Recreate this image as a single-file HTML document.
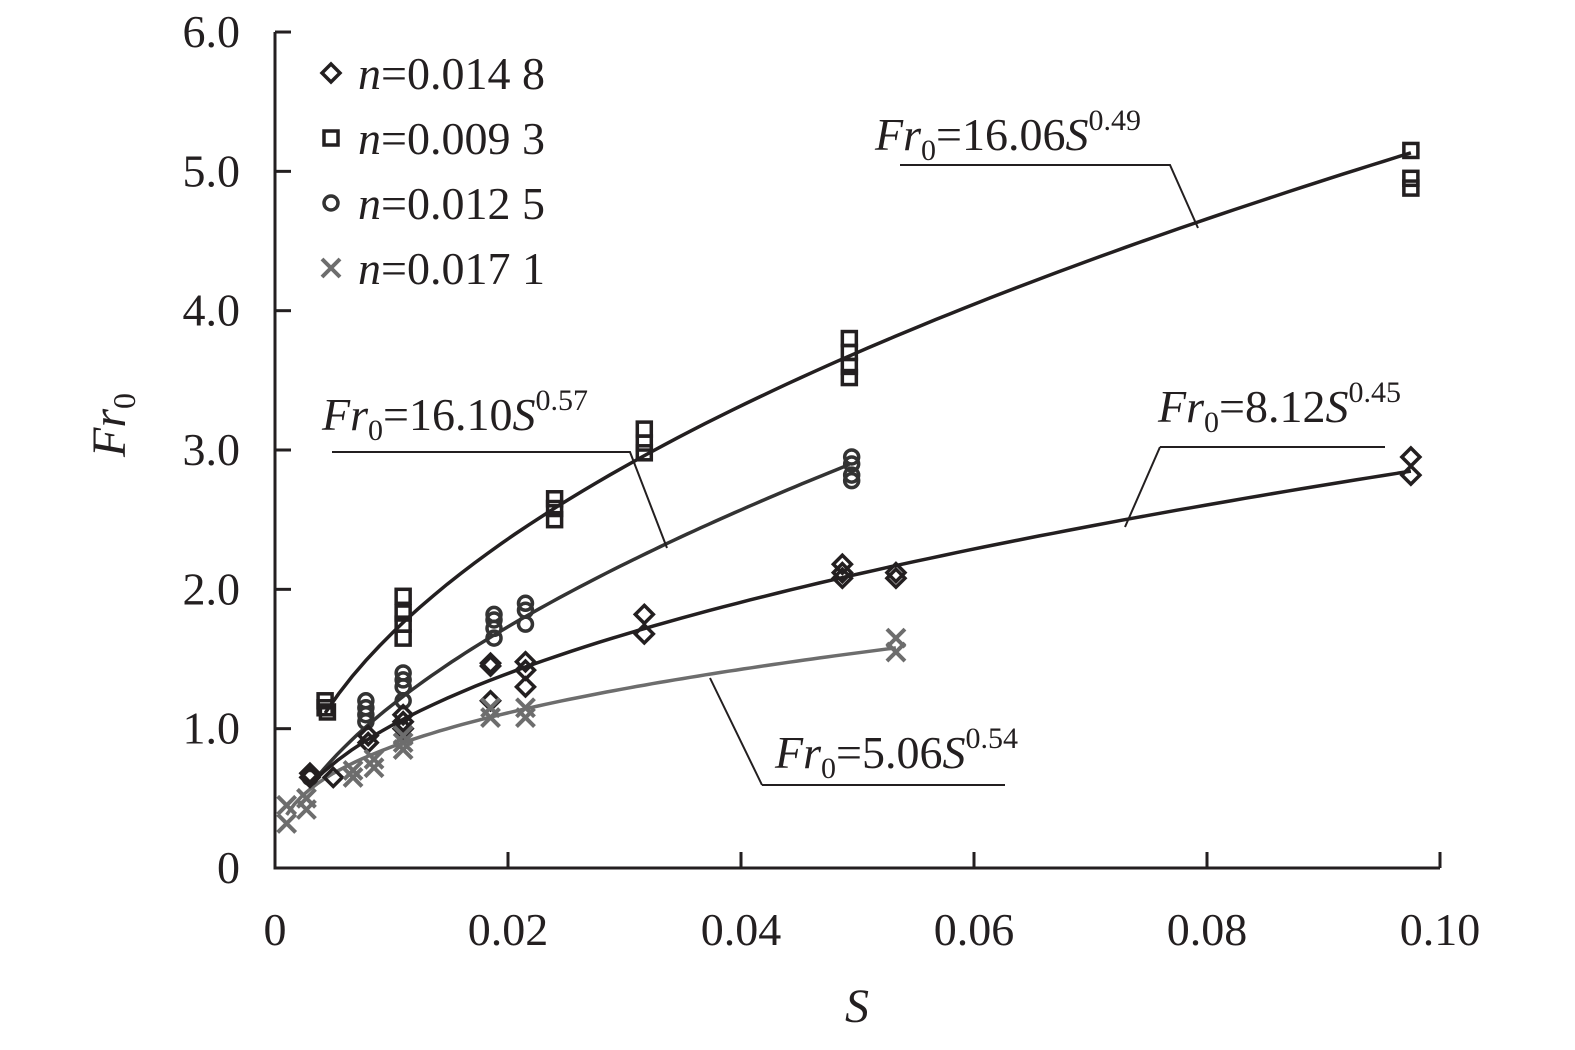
<!DOCTYPE html>
<html><head><meta charset="utf-8"><style>
html,body{margin:0;padding:0;background:#fff}
svg text{font-family:"Liberation Serif",serif;fill:#231f20}
</style></head><body>
<svg id="c" width="1575" height="1045" viewBox="0 0 1575 1045" xmlns="http://www.w3.org/2000/svg"></svg>
<script>
const xTicks=[0,0.02,0.04,0.06,0.08,0.10];
const xTickLabels=["0","0.02","0.04","0.06","0.08","0.10"];
const yTicks=[0,1,2,3,4,5,6];
const yTickLabels=["0","1.0","2.0","3.0","4.0","5.0","6.0"];
const sqS=[0.0043,0.0043,0.0045,0.011,0.011,0.011,0.011,0.024,0.024,0.024,0.0317,0.0317,0.0317,0.0493,0.0493,0.0493,0.0493,0.0975,0.0975,0.0975];
const sqF=[1.2,1.15,1.12,1.95,1.83,1.75,1.65,2.65,2.58,2.5,3.15,3.05,2.98,3.8,3.7,3.6,3.52,5.15,4.95,4.88];
const ciS=[0.003,0.0078,0.0078,0.0078,0.0078,0.011,0.011,0.011,0.011,0.0188,0.0188,0.0188,0.0188,0.0215,0.0215,0.0215,0.0495,0.0495,0.0495,0.0495];
const ciF=[0.65,1.2,1.15,1.1,1.05,1.4,1.35,1.3,1.2,1.82,1.78,1.72,1.65,1.9,1.85,1.75,2.95,2.9,2.82,2.78];
const diS=[0.003,0.003,0.005,0.008,0.008,0.011,0.011,0.011,0.0185,0.0185,0.0185,0.0215,0.0215,0.0215,0.0317,0.0317,0.0487,0.0487,0.0487,0.0533,0.0533,0.0975,0.0975];
const diF=[0.68,0.65,0.65,0.95,0.9,1.1,1.05,1.0,1.47,1.45,1.2,1.48,1.42,1.3,1.82,1.68,2.18,2.12,2.08,2.12,2.08,2.95,2.82];
const xxS=[0.001,0.001,0.0027,0.0027,0.0067,0.0067,0.0085,0.0085,0.011,0.011,0.011,0.0185,0.0185,0.0215,0.0215,0.0533,0.0533];
const xxF=[0.45,0.32,0.5,0.42,0.7,0.65,0.78,0.72,0.95,0.9,0.85,1.15,1.08,1.15,1.08,1.65,1.55];
const fitCoef=[16.06,16.10,8.12,4.5];
const fitExp=[0.49,0.57,0.45,0.357];
const fitRange=[[0.0043,0.0975],[0.003,0.0493],[0.003,0.0975],[0.001,0.0533]];
const fitColor=["#231f20","#333","#231f20","#6d6d6d"];
const fitNames=["fit-n0093","fit-n0125","fit-n0148","fit-n0171"];

const X=s=>275+s*11650, Y=f=>868-f*139.33;
const svg=document.getElementById('c');
const NS="http://www.w3.org/2000/svg";
function mk(t,a,p){const e=document.createElementNS(NS,t);for(const k in a)e.setAttribute(k,a[k]);(p||svg).appendChild(e);return e;}

// axes
let ax=mk('path',{d:`M275 32 V868 H1440`,fill:'none',stroke:'#231f20','stroke-width':3});


yTicks.forEach((v,i)=>{
  let t=mk('line',{x1:275,x2:291,y1:Y(v),y2:Y(v),stroke:'#231f20','stroke-width':3});
  
  
  let l=mk('text',{x:240,y:Y(v)+15,'text-anchor':'end','font-size':46});
  l.textContent=yTickLabels[i];
  
  
});
xTicks.forEach((v,i)=>{
  let t=mk('line',{x1:X(v),x2:X(v),y1:868,y2:852,stroke:'#231f20','stroke-width':3});
  
  
  let l=mk('text',{x:X(v),y:945,'text-anchor':'middle','font-size':46});
  l.textContent=xTickLabels[i];
  
  
});
let xt=mk('text',{x:857,y:1022,'text-anchor':'middle','font-size':48,'font-style':'italic'});
xt.textContent='S';


let yt=mk('text',{transform:'translate(125,425) rotate(-90)','text-anchor':'middle','font-size':48,'font-style':'italic'});
yt.innerHTML='Fr<tspan font-size="32" font-style="normal" dy="10">0</tspan>';



// fits
fitCoef.forEach((c,i)=>{
  let d='';const [a,b]=fitRange[i];
  for(let k=0;k<=80;k++){const s=a+(b-a)*k/80;d+=(k?'L':'M')+X(s).toFixed(1)+' '+Y(c*Math.pow(s,fitExp[i])).toFixed(1);}
  let p=mk('path',{d,fill:'none',stroke:fitColor[i],'stroke-width':3.5});
  
  
});

// markers
function sq(x,y,g){mk('rect',{x:x-7,y:y-7,width:14,height:14,fill:'none',stroke:'#231f20','stroke-width':3.5},g);}
function ci(x,y,g){mk('circle',{cx:x,cy:y,r:7,fill:'none',stroke:'#333','stroke-width':3.5},g);}
function di(x,y,g){mk('path',{d:`M${x} ${y-9}L${x+9} ${y}L${x} ${y+9}L${x-9} ${y}Z`,fill:'none',stroke:'#231f20','stroke-width':3.5},g);}
function xx(x,y,g){mk('path',{d:`M${x-9} ${y-9}L${x+9} ${y+9}M${x+9} ${y-9}L${x-9} ${y+9}`,stroke:'#6d6d6d','stroke-width':4},g);}
[[sqS,sqF,sq,'series-n0093'],[ciS,ciF,ci,'series-n0125'],[diS,diF,di,'series-n0148'],[xxS,xxF,xx,'series-n0171']].forEach(([S,F,fn,nm])=>{
  const g=mk('g',{});
  
  
  S.forEach((s,i)=>fn(X(s),Y(F[i]),g));
});

// legend
const legNames=["0.014 8","0.009 3","0.012 5","0.017 1"];
const legFns=[di,sq,ci,xx];
legNames.forEach((n,i)=>{
  const y=73+i*65;
  const g=mk('g',{});
  
  
  legFns[i](331,y,g);
  const t=mk('text',{x:358,y:y+16,'font-size':46},g);
  t.innerHTML='<tspan font-style="italic">n</tspan>=0.'+n.slice(2);
});

// annotations
function ann(x,y,coef,exp,lines,nm){
  const g=mk('g',{});
  
  
  const t=mk('text',{x,y,'font-size':46},g);
  t.innerHTML=`<tspan font-style="italic">Fr</tspan><tspan font-size="30" dy="10">0</tspan><tspan dy="-10">=${coef}</tspan><tspan font-style="italic">S</tspan><tspan font-size="30" dy="-20">${exp}</tspan>`;
  mk('path',{d:lines,fill:'none',stroke:'#231f20','stroke-width':2},g);
}
ann(875,150,'16.06','0.49','M900 165H1170L1198 228','label-fit-n0093');
ann(322,430,'16.10','0.57','M332 452H630L667 548','label-fit-n0125');
ann(1158,422,'8.12','0.45','M1160 447H1385M1160 447L1125 527','label-fit-n0148');
ann(775,768,'5.06','0.54','M762 785H1005M762 785L710 678','label-fit-n0171');
</script>
</body></html>
